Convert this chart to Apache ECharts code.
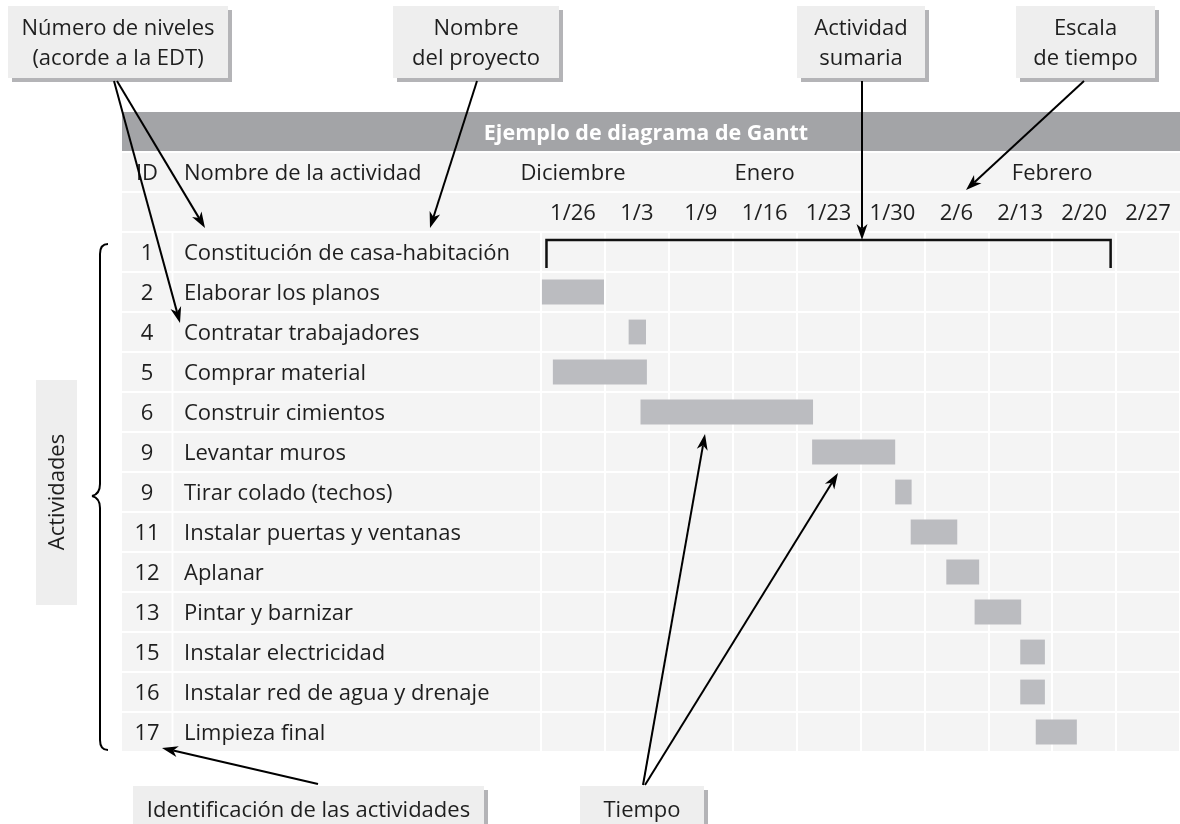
<!DOCTYPE html>
<html><head><meta charset="utf-8">
<script src="https://cdn.jsdelivr.net/npm/echarts@6/dist/echarts.min.js"></script>
<style>html,body{margin:0;padding:0;background:#fff}#c{width:1180px;height:824px}</style>
</head><body><div id="c"></div>
<script>
// ---------- data ----------
const chartTitle = 'Ejemplo de diagrama de Gantt';
const headerLabels = ['ID', 'Nombre de la actividad'];
const ids = ['1', '2', '4', '5', '6', '9', '9', '11', '12', '13', '15', '16', '17'];
const activities = [
  'Constitución de casa-habitación', 'Elaborar los planos', 'Contratar trabajadores',
  'Comprar material', 'Construir cimientos', 'Levantar muros', 'Tirar colado (techos)',
  'Instalar puertas y ventanas', 'Aplanar', 'Pintar y barnizar', 'Instalar electricidad',
  'Instalar red de agua y drenaje', 'Limpieza final'
];
// days counted from the start of the week labelled 1/26
const startDay = [0.6, 0.1, 9.6, 1.3, 10.9, 29.7, 38.8, 40.5, 44.4, 47.5, 52.5, 52.5, 54.2];
const endDay   = [62.4, 6.9, 11.5, 11.6, 29.8, 38.8, 40.6, 45.6, 48.0, 52.6, 55.2, 55.2, 58.7];
const isSummary = [true, false, false, false, false, false, false, false, false, false, false, false, false];
const weekLabels = ['1/26', '1/3', '1/9', '1/16', '1/23', '1/30', '2/6', '2/13', '2/20', '2/27'];
const monthLabels = ['Diciembre', 'Enero', 'Febrero'];
const monthCenterDay = [3.5, 24.5, 56];
const headerRows = ['mes', 'semana'];

// ---------- style / layout ----------
const FONT = '"Open Sans", "Noto Sans", sans-serif';
const FS = 22;
const TXT = '#1e1e1e';
const CELL = '#f4f4f4';
const BAR = '#bbbcc0';
const DAYS_PER_WEEK = 7;
const T_LEFT = 122, NAME_LEFT = 541, TOP_HDR = 152, TOP_BODY = 232, ROW_H = 40;
const TY = 2; // small baseline nudge for text

const chart = echarts.init(document.getElementById('c'), null, {renderer: 'canvas'});

function gridDef(left, top, width, height) {
  return {left, top, width, height, show: true, backgroundColor: CELL, borderWidth: 0, containLabel: false};
}
function hiddenValueX(gridIndex, min, max, split) {
  return {type: 'value', gridIndex, min, max, interval: DAYS_PER_WEEK,
    axisLine: {show: false}, axisTick: {show: false}, axisLabel: {show: false},
    splitLine: {show: !!split, lineStyle: {color: '#ffffff', width: 2}}};
}
function catY(gridIndex, data, split) {
  return {type: 'category', gridIndex, data, inverse: true,
    axisLine: {show: false}, axisTick: {show: false}, axisLabel: {show: false},
    splitLine: {show: split, lineStyle: {color: '#ffffff', width: 2}}};
}
function txt(x, y, text, align, extra) {
  return Object.assign({type: 'text', x, y, style: {text, align: align || 'center', verticalAlign: 'middle',
    font: FS + 'px ' + FONT, fill: TXT}}, extra || {});
}

// ---------- annotations ----------
function arrow(x1, y1, x2, y2) {
  const dx = x2 - x1, dy = y2 - y1, L = Math.hypot(dx, dy), ux = dx / L, uy = dy / L, px = -uy, py = ux;
  const hl = 16, hw = 5.5;
  const bx = x2 - ux * hl, by = y2 - uy * hl;
  const nx = x2 - ux * hl * 0.72, ny = y2 - uy * hl * 0.72;
  return [
    {type: 'line', z: 100, shape: {x1, y1, x2: nx, y2: ny}, style: {stroke: '#000', lineWidth: 2}},
    {type: 'polygon', z: 100, shape: {points: [[x2, y2], [bx + px * hw, by + py * hw], [nx, ny], [bx - px * hw, by - py * hw]]},
      style: {fill: '#000'}}
  ];
}
function callout(x, y, w, h, lines) {
  const els = [
    {type: 'rect', z: 90, shape: {x: x + 4, y: y + 4, width: w, height: h}, style: {fill: '#b4b4b7'}},
    {type: 'rect', z: 91, shape: {x, y, width: w, height: h}, style: {fill: '#eeeeee'}}
  ];
  const lh = 30, cy = y + h / 2 - (lines.length - 1) * lh / 2 + TY;
  lines.forEach((t, i) => els.push(txt(x + w / 2, cy + i * lh, t, 'center', {z: 92})));
  return els;
}
function curve(x1, y1, cx, cy, x2, y2) {
  return {type: 'bezierCurve', z: 50, shape: {x1, y1, x2, y2, cpx1: cx, cpy1: cy},
    style: {stroke: '#000', lineWidth: 2, fill: null}};
}
function seg(x1, y1, x2, y2) {
  return {type: 'line', z: 50, shape: {x1, y1, x2, y2}, style: {stroke: '#000', lineWidth: 2}};
}

const graphics = [].concat(
  [{type: 'rect', z: 1, shape: {x: T_LEFT, y: 112, width: 1180 - T_LEFT, height: 39}, style: {fill: '#a3a4a7'}},
   {type: 'text', z: 2, x: 646, y: 134, style: {text: chartTitle, align: 'center', verticalAlign: 'middle',
     font: 'bold 21.5px ' + FONT, fill: '#ffffff'}}],
  callout(8, 6, 220, 72, ['Número de niveles', '(acorde a la EDT)']),
  callout(393, 6, 166, 72, ['Nombre', 'del proyecto']),
  callout(797, 6, 128, 72, ['Actividad', 'sumaria']),
  callout(1016, 6, 139, 72, ['Escala', 'de tiempo']),
  callout(133, 786, 351, 46, ['Identificación de las actividades']),
  callout(580, 786, 124, 46, ['Tiempo']),
  [{type: 'rect', z: 5, shape: {x: 36, y: 380, width: 41, height: 225}, style: {fill: '#eeeeee'}},
   txt(58, 492, 'Actividades', 'center', {z: 6, rotation: Math.PI / 2}),
   curve(108, 244, 100, 244, 100, 254),
   seg(100, 254, 100, 484),
   curve(100, 484, 100, 494, 92, 496),
   curve(92, 496, 100, 498, 100, 508),
   seg(100, 508, 100, 740),
   curve(100, 740, 100, 750, 108, 750)],
  arrow(117, 81, 205, 228),
  arrow(114, 81, 180, 323),
  arrow(477, 81, 430, 228),
  arrow(862, 81, 862, 240),
  arrow(1084, 81, 966, 190),
  arrow(318, 784, 162, 748),
  arrow(643, 785, 705, 434),
  arrow(645, 785, 838, 473)
);

const option = {
  backgroundColor: '#ffffff',
  animation: false,
  textStyle: {fontFamily: FONT},
  grid: [
    gridDef(T_LEFT, TOP_HDR, NAME_LEFT - T_LEFT, 2 * ROW_H),
    gridDef(T_LEFT, TOP_BODY, NAME_LEFT - T_LEFT, activities.length * ROW_H),
    gridDef(NAME_LEFT, TOP_HDR, 1180 - NAME_LEFT, 2 * ROW_H),
    gridDef(NAME_LEFT, TOP_BODY, 1180 - NAME_LEFT, activities.length * ROW_H)
  ],
  xAxis: [
    hiddenValueX(0, 0, 1, false),
    hiddenValueX(1, 0, 1, false),
    hiddenValueX(2, 0, weekLabels.length * DAYS_PER_WEEK, false),
    hiddenValueX(3, 0, weekLabels.length * DAYS_PER_WEEK, true)
  ],
  yAxis: [
    catY(0, headerRows, true),
    catY(1, activities, true),
    catY(2, headerRows, true),
    catY(3, activities, true)
  ],
  graphic: {elements: graphics},
  series: [
    { // header left: ID / Nombre de la actividad
      type: 'custom', xAxisIndex: 0, yAxisIndex: 0, encode: {x: 0, y: 1}, silent: true,
      data: [[0, 0]],
      renderItem(params, api) {
        const c = api.coord([0, 0]);
        return {type: 'group', children: [
          txt(c[0] + 25, c[1] + TY, headerLabels[0], 'center'),
          txt(c[0] + 62, c[1] + TY, headerLabels[1], 'left')
        ]};
      }
    },
    { // body left: ids and activity names
      type: 'custom', xAxisIndex: 1, yAxisIndex: 1, encode: {x: 0, y: 1}, silent: true,
      data: activities.map((a, i) => [0, i]),
      renderItem(params, api) {
        const i = params.dataIndex;
        const c = api.coord([0, api.value(1)]);
        const bh = api.size([0, 1])[1];
        return {type: 'group', children: [
          {type: 'rect', shape: {x: c[0] + 49.5, y: c[1] - bh / 2, width: 2, height: bh}, style: {fill: '#ffffff'}},
          txt(c[0] + 25, c[1] + TY, ids[i], 'center'),
          txt(c[0] + 62, c[1] + TY, activities[i], 'left')
        ]};
      }
    },
    { // months
      type: 'custom', xAxisIndex: 2, yAxisIndex: 2, encode: {x: 0, y: 1}, silent: true,
      data: monthLabels.map((m, i) => [monthCenterDay[i], 0]),
      renderItem(params, api) {
        const c = api.coord([api.value(0), api.value(1)]);
        return txt(c[0], c[1] + TY, monthLabels[params.dataIndex], 'center');
      }
    },
    { // week labels
      type: 'custom', xAxisIndex: 2, yAxisIndex: 2, encode: {x: 0, y: 1}, silent: true,
      data: weekLabels.map((w, i) => [i * DAYS_PER_WEEK + DAYS_PER_WEEK / 2, 1]),
      renderItem(params, api) {
        const c = api.coord([api.value(0), api.value(1)]);
        return txt(c[0], c[1] + TY, weekLabels[params.dataIndex], 'center');
      }
    },
    { // gantt bars + summary bracket
      type: 'custom', xAxisIndex: 3, yAxisIndex: 3, encode: {x: [1, 2], y: 0}, silent: true,
      data: activities.map((a, i) => [i, startDay[i], endDay[i]]),
      renderItem(params, api) {
        const row = api.value(0);
        const s = api.coord([api.value(1), row]);
        const e = api.coord([api.value(2), row]);
        const bh = api.size([0, 1])[1];
        if (isSummary[params.dataIndex]) {
          const top = s[1] - bh * 0.3, bot = s[1] + bh * 0.4;
          return {type: 'polyline', shape: {points: [[s[0], bot], [s[0], top], [e[0], top], [e[0], bot]]},
            style: {stroke: '#111111', lineWidth: 2.5, fill: null}};
        }
        return {type: 'rect', shape: {x: s[0], y: s[1] - bh * 0.31, width: e[0] - s[0], height: bh * 0.62},
          style: {fill: BAR}};
      }
    }
  ]
};
chart.setOption(option);
</script>
</body></html>
